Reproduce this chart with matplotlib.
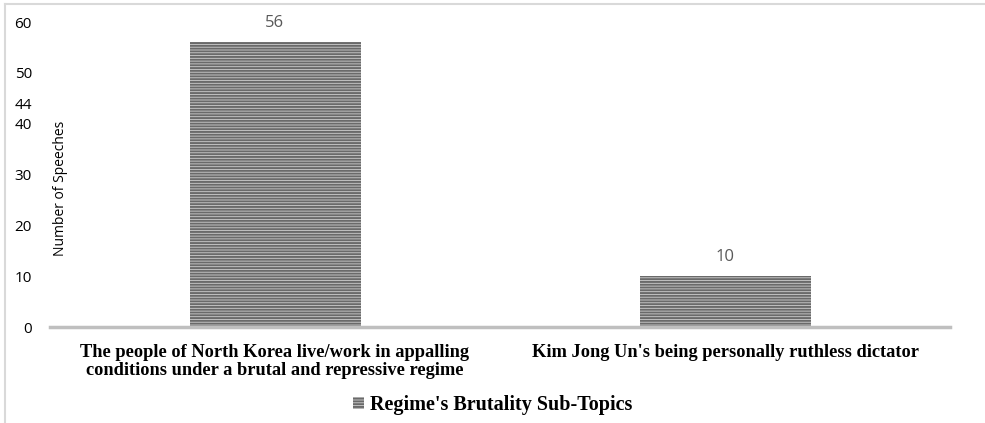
import matplotlib.pyplot as plt
from matplotlib.lines import Line2D
from matplotlib.patches import Patch

plt.rcParams['hatch.linewidth'] = 1.4

categories = ["The people of North Korea live/work in appalling\nconditions under a brutal and repressive regime",
              "Kim Jong Un's being personally ruthless dictator"]
speeches = [56, 10]
yticks = [0, 10, 20, 30, 40, 44, 50, 60]
series_name = "Regime's Brutality Sub-Topics"

fig = plt.figure(figsize=(9.85, 4.23), dpi=100)
ax = fig.add_axes([50/985, 1-327/423, 900/985, 305/423])

x = range(len(categories))
bars = ax.bar(x, speeches, width=0.38, color='#cfcfcf', edgecolor='#6a6a6a',
              hatch='------', linewidth=0)
for b, v in zip(bars, speeches):
    ax.text(b.get_x()+b.get_width()/2, v+2.2, str(v), ha='center', va='bottom',
            fontsize=12, color='#595959', family='Open Sans')

ax.set_xlim(-0.5, 1.5)
ax.set_ylim(0, 60)
ax.set_yticks(yticks)
ax.set_yticklabels([str(t) for t in yticks], family='Open Sans', fontsize=11)
ax.set_xticks(list(x))
ax.set_xticklabels(categories, family='Liberation Serif', fontweight='bold', fontsize=13.2,
                   linespacing=1.1)
ax.tick_params(length=0)
ax.tick_params(axis='y', pad=13)
ax.tick_params(axis='x', pad=12)
for s in ['top', 'right', 'left']:
    ax.spines[s].set_visible(False)
ax.spines['bottom'].set_color('#bfbfbf')
ax.spines['bottom'].set_linewidth(2.5)
fig.text(60/985, 1-188/423, "Number of Speeches", family='Open Sans', fontsize=10,
         rotation=90, ha='center', va='center')

leg = fig.legend(handles=[Patch(facecolor='#cfcfcf', edgecolor='#6a6a6a', hatch='------', linewidth=0)],
                 labels=[series_name], loc='center', bbox_to_anchor=(493/985, 1-405/423),
                 frameon=False, handlelength=0.55, handleheight=0.55, handletextpad=0.3,
                 prop={'family': 'Liberation Serif', 'weight': 'bold', 'size': 14.5})

# outer border (top and left)
fig.add_artist(Line2D([5/985, 1], [1-4/423, 1-4/423], color='#d9d9d9', lw=1.5, transform=fig.transFigure))
fig.add_artist(Line2D([5/985, 5/985], [0, 1-4/423], color='#d9d9d9', lw=1.5, transform=fig.transFigure))

plt.savefig('out.png', dpi=100)
